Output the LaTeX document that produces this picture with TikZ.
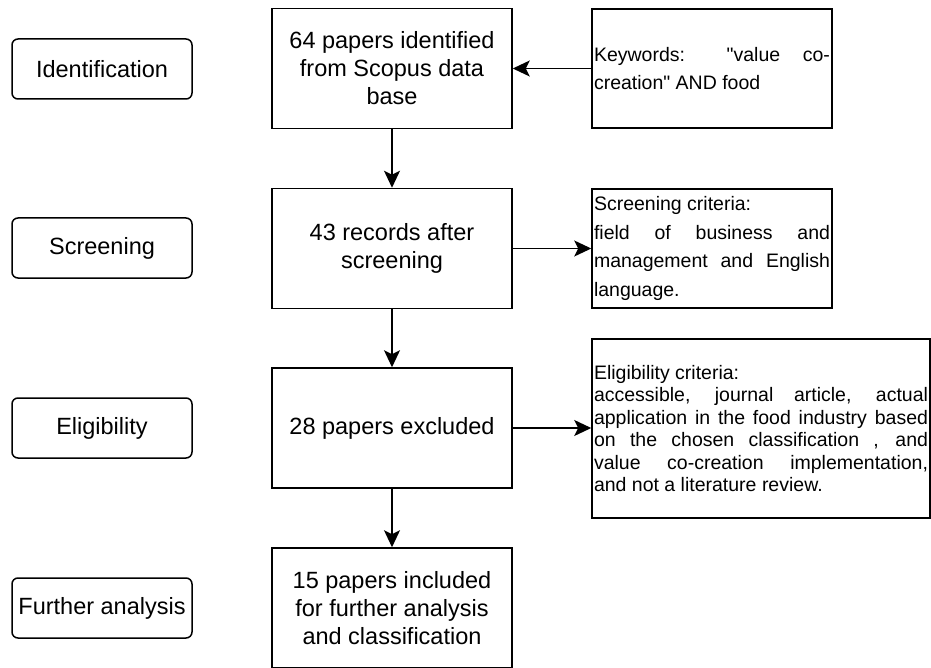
\documentclass[tikz,border=0pt]{standalone}
\usepackage{fontspec}
\setmainfont{Liberation Sans}
\usepackage{tikz}
\usetikzlibrary{arrows.meta, positioning}

\begin{document}
\begin{tikzpicture}[
                x=1pt, y=-1pt,
                stage/.style={rectangle, rounded corners=6pt, draw=black, line width=1.5pt, minimum width=180pt, minimum height=60pt, font={\fontsize{23.5}{28}\selectfont}},
                process/.style={rectangle, draw=black, line width=1.5pt, minimum width=240pt, minimum height=120pt, align=center, font={\fontsize{23.5}{28}\selectfont}},
                criteria/.style={rectangle, draw=black, line width=1.5pt, minimum height=119pt, inner xsep=2pt, align=justify, font={\fontsize{19.5}{28.5}\selectfont}},
                flow/.style={-{Stealth[length=17pt, width=16pt, inset=4pt]}, line width=1.5pt}
                ]
                \useasboundingbox (0,0) rectangle (931,668);

                % Stages on the left
                \node[stage] (ident) at (102,69) {Identification};
                \node[stage] (screen) at (102,248) {Screening};
                \node[stage] (elig) at (102,428) {Eligibility};
                \node[stage] (further) at (102,608) {Further analysis};

                % Main flow
                \node[process] (found) at (392,68.5) {64 papers identified\\from Scopus data\\base};
                \node[process] (records) at (392,248.5) {43 records after\\screening};
                \node[process] (excluded) at (392,428) {28 papers excluded};
                \node[process] (included) at (392,608) {15 papers included\\for further analysis\\and classification};

                % Criteria boxes
                \node[criteria, text width=236pt] (keywords) at (712,68.5) {Keywords: \textquotedbl value co-\linebreak creation\textquotedbl{} AND food};
                \node[criteria, text width=236pt] (screencrit) at (712,248.5) {Screening criteria:\\field of business and\linebreak management and English\linebreak language.};
                \node[criteria, text width=334pt, minimum height=179pt, font={\fontsize{19.5}{22.5}\selectfont}] (eligcrit) at (761,428.5) {Eligibility criteria:\\accessible, journal article, actual\linebreak application in the food industry based\linebreak on the chosen classification , and\linebreak value co-creation implementation,\linebreak and not a literature review.};

                % Arrows
                \draw[flow] (found) -- (records);
                \draw[flow] (records) -- (excluded);
                \draw[flow] (excluded) -- (included);
                \draw[flow] (keywords.west) -- (found.east |- keywords.west);
                \draw[flow] (records.east) -- (screencrit.west |- records.east);
                \draw[flow] (excluded.east) -- (eligcrit.west |- excluded.east);

\end{tikzpicture}
\end{document}
